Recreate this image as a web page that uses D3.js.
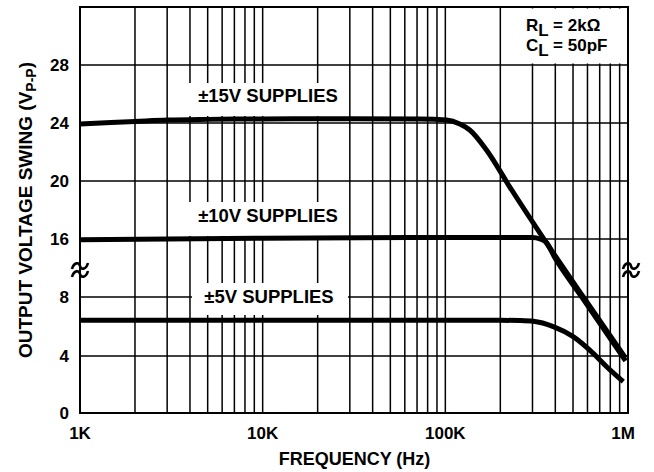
<!DOCTYPE html>
<html><head><meta charset="utf-8">
<script src="https://cdn.jsdelivr.net/npm/d3@7"></script>
<style>
body{margin:0;background:#fff;}
text{font-family:"Liberation Sans",Arial,sans-serif;font-weight:bold;fill:#000;}
</style></head>
<body>
<svg id="c" width="654" height="472"></svg>
<script>
// ---- data ----
const yTickValues = [0, 4, 8, 16, 20, 24, 28];
const xTickValues = [1e3, 1e4, 1e5, 1e6];
const xTickLabels = ["1K", "10K", "100K", "1M"];
const s15Freq = [1000, 2000, 3000, 5000, 10000, 30000, 72600, 101600, 120000, 136000, 168000, 225000, 338000, 566000, 970000];
const s15Volt = [23.93, 24.1, 24.2, 24.25, 24.28, 24.3, 24.28, 24.2, 23.93, 23.52, 22.14, 19.6, 16.2, 8.1, 3.86];
const s10Freq = [1000, 10000, 100000, 300000, 330000, 355000, 400000, 566000, 970000];
const s10Volt = [15.9, 16.05, 16.1, 16.1, 16.0, 15.6, 13.3, 7.9, 3.66];
const s5Freq = [1000, 10000, 100000, 200000, 256000, 303000, 390000, 501000, 645000, 764000, 942000];
const s5Volt = [6.42, 6.42, 6.42, 6.42, 6.4, 6.35, 5.99, 5.31, 4.18, 3.25, 2.2];
const seriesLabels = ["\u00B115V SUPPLIES", "\u00B110V SUPPLIES", "\u00B15V SUPPLIES"];

const svg = d3.select("#c");
const L = 80, R = 628, T = 7, B = 413;
const x = d3.scaleLog().domain([1e3, 1e6]).range([L, R]);
// broken axis: 8..16 compressed into one grid step
const y = d3.scaleLinear().domain([0, 4, 8, 16, 32]).range([B, 356, 297, 239, T]);

// grid
const g = svg.append("g");
const vt = x.ticks();
g.selectAll("line.v").data(vt).join("line")
  .attr("x1", d => x(d)).attr("x2", d => x(d)).attr("y1", T).attr("y2", B)
  .attr("stroke", "#000").attr("stroke-width", 1.5);
g.selectAll("line.h").data(yTickValues).join("line")
  .attr("x1", L).attr("x2", R).attr("y1", d => y(d)).attr("y2", d => y(d))
  .attr("stroke", "#000").attr("stroke-width", 1.5);

// white boxes (labels and legend)
const boxes = [
  [186, 83, 345, 116],
  [188, 202, 346, 236],
  [192, 283, 348, 315],
  [503, 8.5, 627, 63.5]
];
svg.selectAll("rect.box").data(boxes).join("rect")
  .attr("x", d => d[0]).attr("y", d => d[1]).attr("width", d => d[2]-d[0]).attr("height", d => d[3]-d[1])
  .attr("fill", "#fff");

// frame
svg.append("rect").attr("x", L).attr("y", T).attr("width", R-L).attr("height", B-T)
  .attr("fill", "none").attr("stroke", "#000").attr("stroke-width", 2);

// curves
const line = d3.line().x(d => x(d[0])).y(d => y(d[1])).curve(d3.curveMonotoneX);
const series = [
  d3.zip(s15Freq, s15Volt),
  d3.zip(s10Freq, s10Volt),
  d3.zip(s5Freq, s5Volt)
];
svg.selectAll("path.s").data(series).join("path")
  .attr("d", line).attr("fill", "none").attr("stroke", "#000").attr("stroke-width", 5);

// series labels
const labelPos = [[268, 102], [268, 222], [269, 303]];
svg.selectAll("text.lab").data(seriesLabels).join("text")
  .attr("x", (d,i) => labelPos[i][0]).attr("y", (d,i) => labelPos[i][1])
  .attr("text-anchor", "middle").attr("font-size", 18.5).text(d => d);

// y tick labels
svg.selectAll("text.yt").data(yTickValues).join("text")
  .attr("x", 69).attr("y", d => y(d) + 6).attr("text-anchor", "end")
  .attr("font-size", 17).text(d => d);

// x tick labels
svg.selectAll("text.xt").data(xTickValues).join("text")
  .attr("x", (d,i) => i === 3 ? x(d) - 5 : x(d)).attr("y", 439).attr("text-anchor", "middle")
  .attr("font-size", 17).text((d,i) => xTickLabels[i]);

// axis titles
svg.append("text").attr("x", 354.5).attr("y", 465).attr("text-anchor", "middle")
  .attr("font-size", 18).text("FREQUENCY (Hz)");
const yt = svg.append("text").attr("transform", "translate(32,210) rotate(-90)")
  .attr("text-anchor", "middle").attr("font-size", 19);
yt.append("tspan").text("OUTPUT VOLTAGE SWING (V");
yt.append("tspan").attr("font-size", 14).attr("dy", 4).text("P-P");
yt.append("tspan").attr("dy", -4).text(")");

// legend
const lg1 = svg.append("text").attr("x", 526).attr("y", 31).attr("font-size", 17);
lg1.append("tspan").text("R");
lg1.append("tspan").attr("dy", 5).text("L");
lg1.append("tspan").attr("dy", -5).text(" = 2k\u03A9");
const lg2 = svg.append("text").attr("x", 526).attr("y", 51).attr("font-size", 17);
lg2.append("tspan").text("C");
lg2.append("tspan").attr("dy", 5).text("L");
lg2.append("tspan").attr("dy", -5).text(" = 50pF");

// axis break symbols
[[80, 270], [631, 270]].forEach(p => {
  const gb = svg.append("g").attr("transform", `translate(${p[0]},${p[1]})`);
  [-4, 4].forEach(dy => {
    gb.append("path").attr("d", `M-8,${dy+3} C-6,${dy-4} -1,${dy-4} 0,${dy} S6,${dy+4} 8,${dy-3}`)
      .attr("fill", "none").attr("stroke", "#000").attr("stroke-width", 2.6);
  });
});
</script>
</body></html>
